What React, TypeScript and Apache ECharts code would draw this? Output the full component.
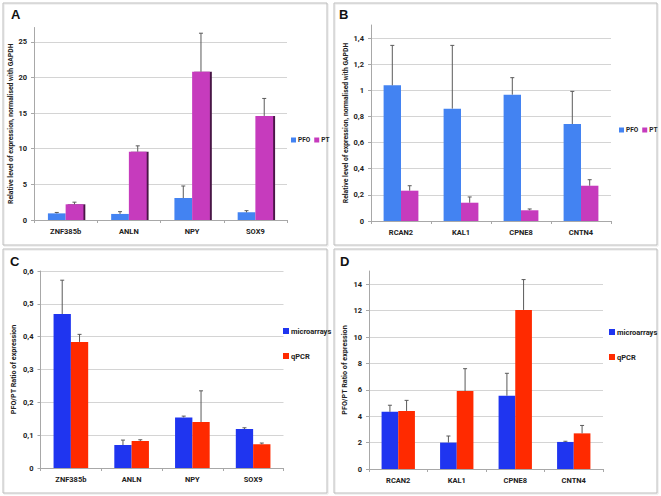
import React, { useEffect, useRef } from "react";
import * as echarts from "echarts";

// ---------- data ----------
const catsA = ["ZNF385b", "ANLN", "NPY", "SOX9"];
const catsB = ["RCAN2", "KAL1", "CPNE8", "CNTN4"];

const aPFO = [0.93, 0.85, 3.08, 1.07];
const aPFOErr = [0.13, 0.32, 1.69, 0.24];
const aPT = [2.2, 9.58, 20.8, 14.6];
const aPTErr = [0.3, 0.82, 5.4, 2.45];

const bPFO = [1.038, 0.86, 0.967, 0.742];
const bPFOErr = [0.306, 0.484, 0.13, 0.25];
const bPT = [0.232, 0.14, 0.082, 0.27];
const bPTErr = [0.038, 0.044, 0.01, 0.046];

const cMicro = [0.469, 0.07, 0.154, 0.1185];
const cMicroErr = [0.103, 0.015, 0.004, 0.004];
const cQ = [0.384, 0.082, 0.14, 0.072];
const cQErr = [0.023, 0.004, 0.095, 0.004];

const dMicro = [4.33, 2.0, 5.55, 2.05];
const dMicroErr = [0.5, 0.5, 1.7, 0.05];
const dQ = [4.4, 5.9, 12.05, 2.7];
const dQErr = [0.8, 1.7, 2.3, 0.6];

const titleAB = "Relative level of expression, normalised with GAPDH";
const titleCD = "PFO/PT Ratio of expression";

const FONT = "Roboto, 'Liberation Sans', sans-serif";

type Panel = {
  letter: string;
  cats: string[];
  names: [string, string];
  colors: [string, string];
  vals: [number[], number[]];
  errs: [number[], number[]];
  max: number;
  interval: number;
  showMaxLine: boolean;
  grid: { left: number; top: number; width: number; height: number };
  gap: number;
  title: string;
  titleSize: number;
  nameGap: number;
  legend: any;
  legendFont: number;
  legendIcon: number;
  box: [number, number, number, number];
  letterPos: [number, number];
  shadow: boolean;
};

const panels: Panel[] = [
  {
    letter: "A",
    cats: catsA,
    names: ["PFO", "PT"],
    colors: ["#4383f2", "#c63bbd"],
    vals: [aPFO, aPT],
    errs: [aPFOErr, aPTErr],
    max: 27,
    interval: 5,
    showMaxLine: false,
    grid: { left: 34, top: 27.5, width: 253, height: 192.5 },
    gap: 0.44,
    title: titleAB,
    titleSize: 6.8,
    nameGap: 17,
    legend: { left: 291, top: 136.5, orient: "horizontal", itemGap: 4, width: 80 },
    legendFont: 6.5,
    legendIcon: 5,
    box: [3, 3, 324, 242],
    letterPos: [11, 8],
    shadow: true,
  },
  {
    letter: "B",
    cats: catsB,
    names: ["PFO", "PT"],
    colors: ["#4383f2", "#c63bbd"],
    vals: [bPFO, bPT],
    errs: [bPFOErr, bPTErr],
    max: 1.5,
    interval: 0.2,
    showMaxLine: false,
    grid: { left: 371, top: 25, width: 240, height: 196 },
    gap: 0.42,
    title: titleAB,
    titleSize: 6.8,
    nameGap: 22,
    legend: { left: 619, top: 126.5, orient: "horizontal", itemGap: 4, width: 60 },
    legendFont: 6.5,
    legendIcon: 5,
    box: [334, 3, 323, 242],
    letterPos: [339, 8],
    shadow: false,
  },
  {
    letter: "C",
    cats: catsA,
    names: ["microarrays", "qPCR"],
    colors: ["#1f35f0", "#ff2a00"],
    vals: [cMicro, cQ],
    errs: [cMicroErr, cQErr],
    max: 0.6,
    interval: 0.1,
    showMaxLine: true,
    grid: { left: 40.5, top: 271, width: 243, height: 197 },
    gap: 0.43,
    title: titleCD,
    titleSize: 7.2,
    nameGap: 24,
    legend: { left: 283, top: 327, orient: "vertical", itemGap: 17 },
    legendFont: 7.5,
    legendIcon: 6,
    box: [3, 249, 324, 244],
    letterPos: [10, 255],
    shadow: false,
  },
  {
    letter: "D",
    cats: catsB,
    names: ["microarrays", "qPCR"],
    colors: ["#1f35f0", "#ff2a00"],
    vals: [dMicro, dQ],
    errs: [dMicroErr, dQErr],
    max: 15,
    interval: 2,
    showMaxLine: false,
    grid: { left: 369, top: 271, width: 234, height: 198 },
    gap: 0.43,
    title: titleCD,
    titleSize: 7.2,
    nameGap: 21,
    legend: { left: 609, top: 328, orient: "vertical", itemGap: 17 },
    legendFont: 7.5,
    legendIcon: 6,
    box: [334, 249, 323, 244],
    letterPos: [340, 255],
    shadow: false,
  },
];

function buildOption() {
  const grid: any[] = [];
  const xAxis: any[] = [];
  const yAxis: any[] = [];
  const series: any[] = [];
  const legend: any[] = [];
  const graphic: any[] = [];

  panels.forEach((p, i) => {
    grid.push({ ...p.grid, containLabel: false });
    xAxis.push({
      type: "category",
      gridIndex: i,
      data: p.cats,
      axisLine: { lineStyle: { color: "#a8a8a8" } },
      axisTick: { show: true, length: 3, lineStyle: { color: "#a8a8a8" } },
      axisLabel: {
        fontFamily: FONT,
        fontSize: 7.5,
        fontWeight: "bold",
        color: "#222",
        margin: 7,
      },
    });
    yAxis.push({
      type: "value",
      gridIndex: i,
      min: 0,
      max: p.max,
      interval: p.interval,
      name: p.title,
      nameLocation: "middle",
      nameRotate: 90,
      nameGap: p.nameGap,
      nameTextStyle: {
        fontFamily: FONT,
        fontSize: p.titleSize,
        fontWeight: "bold",
        color: "#222",
      },
      axisLine: { show: true, lineStyle: { color: "#a8a8a8" } },
      axisTick: { show: true, length: 3, lineStyle: { color: "#a8a8a8" } },
      axisLabel: {
        fontFamily: FONT,
        fontSize: 7.5,
        fontWeight: "bold",
        color: "#222",
        margin: 7,
        showMaxLabel: p.showMaxLine,
        formatter: (v: number) => String(+v.toFixed(2)).replace(".", ","),
      },
      splitLine: {
        show: true,
        showMinLine: false,
        showMaxLine: p.showMaxLine,
        lineStyle: { color: "#d4d4d4" },
      },
    });

    const seriesNames = p.names.map((n) => `${p.letter}:${n}`);
    [0, 1].forEach((k) => {
      series.push({
        type: "bar",
        name: seriesNames[k],
        xAxisIndex: i,
        yAxisIndex: i,
        data: p.vals[k],
        barGap: "0%",
        barCategoryGap: `${Math.round(p.gap * 100)}%`,
        itemStyle: {
          color: p.colors[k],
          ...(p.shadow && k === 1
            ? { shadowColor: "#4a1246", shadowOffsetX: 2, shadowBlur: 0 }
            : {}),
        },
        z: 2,
      });
    });
    [0, 1].forEach((k) => {
      const gap = p.gap;
      series.push({
        type: "custom",
        name: `${seriesNames[k]}-err`,
        xAxisIndex: i,
        yAxisIndex: i,
        z: 5,
        silent: true,
        data: p.vals[k].map((v, j) => [j, v, p.errs[k][j]]),
        encode: { x: 0, y: 1 },
        renderItem: (params: any, api: any) => {
          const c = api.coord([api.value(0), api.value(1)]);
          const t = api.coord([api.value(0), api.value(1) + api.value(2)]);
          const band = api.size([1, 0])[0];
          const bw = (band * (1 - gap)) / 2;
          const x = c[0] + (k === 0 ? -bw / 2 : bw / 2);
          const st = { stroke: "#5a5a5a", lineWidth: 1 };
          return {
            type: "group",
            children: [
              { type: "line", shape: { x1: x, y1: c[1], x2: x, y2: t[1] }, style: st },
              { type: "line", shape: { x1: x - 2, y1: t[1], x2: x + 2, y2: t[1] }, style: st },
            ],
          };
        },
      });
    });

    legend.push({
      ...p.legend,
      data: seriesNames,
      formatter: (n: string) => n.split(":")[1],
      icon: "rect",
      itemWidth: p.legendIcon,
      itemHeight: p.legendIcon,
      padding: 0,
      textStyle: {
        fontFamily: FONT,
        fontSize: p.legendFont,
        fontWeight: "bold",
        color: "#222",
        padding: [0, 0, 0, -3],
      },
      selectedMode: false,
    });

    const [bx, by, bw, bh] = p.box;
    graphic.push({
      type: "rect",
      shape: { x: bx + 1, y: by + 1, width: bw, height: bh },
      style: { fill: "none", stroke: "#e6e6e6", lineWidth: 1 },
      silent: true,
      z: -2,
    });
    graphic.push({
      type: "rect",
      shape: { x: bx, y: by, width: bw, height: bh },
      style: { fill: "none", stroke: "#bdbdbd", lineWidth: 1 },
      silent: true,
      z: -1,
    });
    graphic.push({
      type: "text",
      x: p.letterPos[0],
      y: p.letterPos[1],
      style: {
        text: p.letter,
        fontFamily: "'Liberation Sans', Arial, sans-serif",
        fontSize: 13,
        fontWeight: "bold",
        fill: "#111",
      },
    });
  });

  return {
    animation: false,
    backgroundColor: "#ffffff",
    grid,
    xAxis,
    yAxis,
    series,
    legend,
    graphic,
  };
}

export default function App() {
  const ref = useRef<HTMLDivElement>(null);
  useEffect(() => {
    if (!ref.current) return;
    const chart = echarts.init(ref.current, undefined, { renderer: "svg" });
    chart.setOption(buildOption());
    return () => chart.dispose();
  }, []);
  return (
    <div
      ref={ref}
      style={{ position: "absolute", left: 0, top: 0, width: 661, height: 496, background: "#fff" }}
    />
  );
}
